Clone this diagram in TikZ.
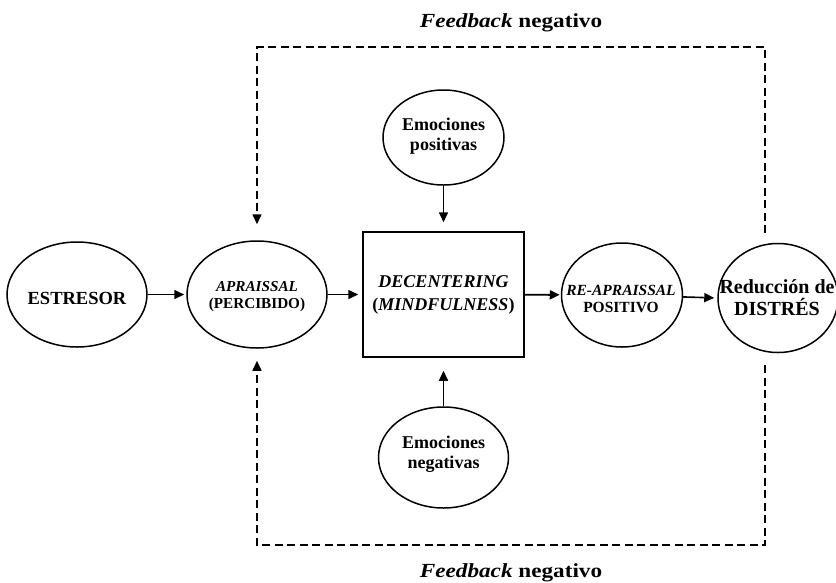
\documentclass[tikz,border=0pt]{standalone}
\usepackage{fontspec}
\setmainfont{Liberation Serif}
\newfontfamily\fbfont[FakeStretch=1.16]{Liberation Serif}
\usetikzlibrary{arrows.meta,shapes.geometric}
\begin{document}
\begin{tikzpicture}[x=1pt,y=-1pt,
  el/.style={draw, ellipse, line width=1.5pt, inner sep=0pt},
  bx/.style={draw, rectangle, line width=1.5pt, inner sep=0pt, align=center},
  txt/.style={inner sep=0pt, align=center},
  arr/.style={-{Triangle[length=10pt,width=9pt]}, line width=1.6pt},
  fb/.style={dash pattern=on 8pt off 4.5pt, line width=1.5pt, -{Triangle[length=10pt,width=9pt]}},
  lbl/.style={anchor=base, inner sep=0pt, font=\fbfont\bfseries\fontsize{20}{23}\selectfont}]
\useasboundingbox (0,0) rectangle (836,582);
% shapes
\node[el, minimum width=140pt, minimum height=105pt] (est) at (77,294.5) {};
\node[el, minimum width=140pt, minimum height=107pt] (app) at (257,294.5) {};
\node[bx, minimum width=161pt, minimum height=125pt, font=\bfseries\fontsize{18}{23}\selectfont] (box) at (443.5,294.5) {\textit{DECENTERING}\\(\textit{MINDFULNESS})};
\node[el, minimum width=121pt, minimum height=104pt] (reap) at (622,295) {};
\node[el, minimum width=120pt, minimum height=109pt] (red) at (778,298) {};
\node[el, minimum width=121pt, minimum height=95pt] (pos) at (443.5,137.5) {};
\node[el, minimum width=130pt, minimum height=101pt] (neg) at (443.5,457.5) {};
% texts
\node[txt, font=\bfseries\fontsize{18.5}{21}\selectfont] (estT) at (77,298) {ESTRESOR};
\node[txt, font=\bfseries\fontsize{15.2}{17}\selectfont] (appT) at (257,297) {\textit{APRAISSAL}\\(PERCIBIDO)};
\node[txt, font=\bfseries\fontsize{15.5}{17}\selectfont] (reapT) at (621,299) {\textit{RE-APRAISSAL}\\POSITIVO};
\node[txt, font=\bfseries\fontsize{20}{22}\selectfont] (redT) at (777,298) {Reducción de\\DISTRÉS};
\node[txt, font=\bfseries\fontsize{18}{20}\selectfont] (posT) at (443.5,136) {Emociones\\positivas};
\node[txt, font=\bfseries\fontsize{18}{20}\selectfont] (negT) at (443.5,454) {Emociones\\negativas};
\node[lbl] (fbt) at (511,27.5) {\textit{Feedback} negativo};
\node[lbl] (fbb) at (511,577) {\textit{Feedback} negativo};
% dashed loop points
\coordinate (rt) at (765,233);
\coordinate (rb) at (765,365);
\coordinate (tr) at (765,47);
\coordinate (tl) at (257,47);
\coordinate (br) at (765,545);
\coordinate (bl) at (257,545);
% connectors
\draw[arr, shorten >=2pt] (est) -- (app);
\draw[arr, shorten >=4pt] (app) -- (box);
\draw[arr, line width=1.9pt, shorten >=1pt] (box) -- (reap);
\draw[arr, shorten >=3pt] (reap) -- (red.west);
\draw[arr, shorten >=9pt] (pos) -- (box);
\draw[arr, shorten >=13pt] (neg) -- (box);
\draw[fb, shorten >=16pt] (rt) -- (tr) -- (tl) -- (app.north);
\draw[fb, shorten >=12pt] (rb) -- (br) -- (bl) -- (app.south);
\end{tikzpicture}
\end{document}
